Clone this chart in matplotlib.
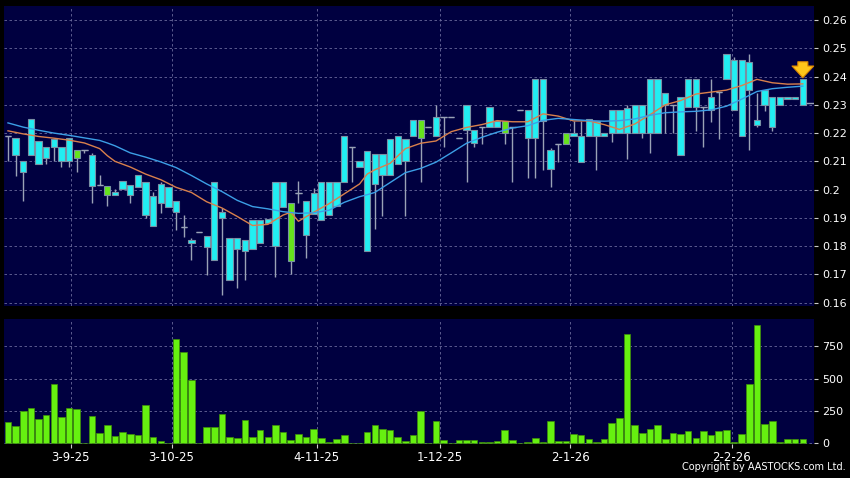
import numpy as np
import matplotlib
matplotlib.use("Agg")
import matplotlib.pyplot as plt

# daily candles (105 sessions)
opens = [
    0.2190, 0.2122, 0.2062, 0.2122, 0.2090, 0.2112, 0.2150, 0.2101, 0.2101, 0.2140,
    0.2139, 0.2012, 0.2017, 0.2012, 0.1982, 0.2002, 0.1982, 0.2011, 0.1910, 0.1871,
    0.1952, 0.1940, 0.1920, 0.1869, 0.1810, 0.1849, 0.1798, 0.1750, 0.1899, 0.1679,
    0.1790, 0.1783, 0.1790, 0.1810, 0.1881, 0.1800, 0.1940, 0.1952, 0.1989, 0.1840,
    0.1914, 0.1893, 0.1910, 0.1942, 0.2028, 0.2150, 0.2079, 0.1782, 0.2019, 0.2051,
    0.2051, 0.2090, 0.2100, 0.2189, 0.2248, 0.2221, 0.2188, 0.2258, 0.2258, 0.2183,
    0.2211, 0.2165, 0.2220, 0.2220, 0.2220, 0.2241, 0.2220, 0.2280, 0.2182, 0.2182,
    0.2241, 0.2072, 0.2160, 0.2199, 0.2190, 0.2099, 0.2190, 0.2190, 0.2190, 0.2199,
    0.2199, 0.2199, 0.2199, 0.2199, 0.2199, 0.2199, 0.2301, 0.2301, 0.2122, 0.2291,
    0.2291, 0.2291, 0.2281, 0.2346, 0.2390, 0.2281, 0.2189, 0.2352, 0.2230, 0.2299,
    0.2220, 0.2299, 0.2320, 0.2320, 0.2301]
closes = [
    0.2190, 0.2181, 0.2101, 0.2250, 0.2172, 0.2149, 0.2180, 0.2150, 0.2181, 0.2112,
    0.2139, 0.2122, 0.2017, 0.1982, 0.1991, 0.2030, 0.2018, 0.2050, 0.2028, 0.1979,
    0.2020, 0.2010, 0.1959, 0.1869, 0.1820, 0.1849, 0.1837, 0.2028, 0.1920, 0.1830,
    0.1830, 0.1820, 0.1893, 0.1893, 0.1897, 0.2028, 0.2028, 0.1749, 0.1989, 0.1958,
    0.1989, 0.2028, 0.2028, 0.2028, 0.2188, 0.2150, 0.2100, 0.2138, 0.2126, 0.2126,
    0.2179, 0.2188, 0.2180, 0.2248, 0.2181, 0.2221, 0.2258, 0.2258, 0.2258, 0.2183,
    0.2301, 0.2210, 0.2220, 0.2291, 0.2242, 0.2200, 0.2220, 0.2280, 0.2280, 0.2390,
    0.2390, 0.2139, 0.2160, 0.2160, 0.2199, 0.2190, 0.2249, 0.2241, 0.2199, 0.2280,
    0.2280, 0.2289, 0.2301, 0.2301, 0.2390, 0.2390, 0.2340, 0.2301, 0.2328, 0.2390,
    0.2390, 0.2291, 0.2328, 0.2346, 0.2478, 0.2460, 0.2460, 0.2450, 0.2248, 0.2352,
    0.2328, 0.2328, 0.2328, 0.2328, 0.2390]
highs = [
    0.2190, 0.2181, 0.2101, 0.2250, 0.2172, 0.2149, 0.2180, 0.2150, 0.2181, 0.2140,
    0.2139, 0.2129, 0.2051, 0.2012, 0.2002, 0.2030, 0.2018, 0.2050, 0.2028, 0.1991,
    0.2028, 0.2010, 0.1959, 0.1910, 0.1828, 0.1849, 0.1837, 0.2028, 0.1934, 0.1830,
    0.1830, 0.1820, 0.1893, 0.1893, 0.1897, 0.2028, 0.2028, 0.1952, 0.2031, 0.1958,
    0.2005, 0.2028, 0.2028, 0.2028, 0.2188, 0.2150, 0.2100, 0.2138, 0.2126, 0.2126,
    0.2179, 0.2188, 0.2180, 0.2248, 0.2248, 0.2221, 0.2301, 0.2258, 0.2258, 0.2183,
    0.2301, 0.2210, 0.2220, 0.2291, 0.2242, 0.2241, 0.2220, 0.2280, 0.2280, 0.2390,
    0.2390, 0.2146, 0.2160, 0.2199, 0.2241, 0.2241, 0.2249, 0.2241, 0.2199, 0.2280,
    0.2280, 0.2299, 0.2301, 0.2301, 0.2390, 0.2390, 0.2340, 0.2301, 0.2328, 0.2390,
    0.2390, 0.2291, 0.2390, 0.2346, 0.2478, 0.2470, 0.2460, 0.2478, 0.2340, 0.2352,
    0.2328, 0.2328, 0.2328, 0.2328, 0.2390]
lows = [
    0.2100, 0.2049, 0.1958, 0.2122, 0.2090, 0.2090, 0.2101, 0.2080, 0.2080, 0.2061,
    0.2130, 0.1951, 0.2017, 0.1941, 0.1982, 0.2002, 0.1952, 0.2011, 0.1899, 0.1871,
    0.1916, 0.1940, 0.1857, 0.1831, 0.1751, 0.1849, 0.1698, 0.1750, 0.1627, 0.1679,
    0.1651, 0.1680, 0.1790, 0.1810, 0.1881, 0.1690, 0.1940, 0.1702, 0.1952, 0.1759,
    0.1914, 0.1893, 0.1910, 0.1942, 0.2028, 0.2028, 0.2079, 0.1782, 0.1860, 0.1907,
    0.2051, 0.2090, 0.1908, 0.2189, 0.2028, 0.2221, 0.2188, 0.2150, 0.2258, 0.2183,
    0.2028, 0.2149, 0.2160, 0.2220, 0.2220, 0.2161, 0.2028, 0.2280, 0.2040, 0.2040,
    0.2071, 0.2010, 0.2099, 0.2160, 0.2190, 0.2099, 0.2190, 0.2070, 0.2190, 0.2169,
    0.2199, 0.2110, 0.2199, 0.2181, 0.2128, 0.2199, 0.2199, 0.2199, 0.2122, 0.2291,
    0.2208, 0.2149, 0.2240, 0.2179, 0.2390, 0.2281, 0.2189, 0.2140, 0.2220, 0.2279,
    0.2208, 0.2299, 0.2320, 0.2320, 0.2301]
volumes = [
    167, 136, 252, 272, 188, 218, 457, 200, 272, 265,
    0, 208, 80, 144, 59, 85, 72, 67, 293, 51,
    18, 0, 804, 704, 491, 0, 128, 126, 224, 51,
    41, 180, 51, 100, 46, 141, 90, 23, 69, 51,
    113, 44, 10, 36, 62, 3, 0, 90, 139, 113,
    103, 49, 15, 64, 252, 0, 172, 28, 0, 28,
    23, 28, 10, 10, 21, 103, 26, 0, 10, 41,
    10, 172, 15, 15, 72, 64, 33, 10, 31, 154,
    193, 843, 141, 80, 110, 141, 33, 77, 69, 92,
    41, 95, 67, 98, 105, 10, 69, 457, 909, 152,
    172, 10, 31, 31, 31]

# moving averages, sampled every couple of sessions
ma_idx = [0, 2, 4, 6, 8, 10, 12, 13, 14, 16, 18, 20, 22, 24, 26, 28, 30, 32, 34, 36,
          37, 38, 40, 42, 44, 46, 47, 48, 50, 52, 54, 56, 58, 60, 62, 64, 66, 68, 70,
          72, 74, 76, 78, 80, 82, 84, 86, 88, 90, 92, 94, 96, 98, 100, 102, 104]
ma_short = [0.2208, 0.2197, 0.2188, 0.2182, 0.2175, 0.2165, 0.2145, 0.2120, 0.2100,
            0.2080, 0.2055, 0.2035, 0.2008, 0.1990, 0.1957, 0.1935, 0.1905, 0.1873,
            0.1877, 0.1910, 0.1920, 0.1888, 0.1920, 0.1950, 0.1985, 0.2020, 0.2055,
            0.2070, 0.2093, 0.2145, 0.2164, 0.2172, 0.2205, 0.2220, 0.2230, 0.2244,
            0.2240, 0.2240, 0.2268, 0.2260, 0.2243, 0.2243, 0.2230, 0.2213, 0.2232,
            0.2265, 0.2300, 0.2315, 0.2338, 0.2345, 0.2352, 0.2368, 0.2390, 0.2378,
            0.2373, 0.2374]
ma_long = [0.2236, 0.2221, 0.2210, 0.2200, 0.2192, 0.2183, 0.2174, 0.2165, 0.2155,
           0.2130, 0.2115, 0.2098, 0.2078, 0.2050, 0.2020, 0.1993, 0.1962, 0.1940,
           0.1932, 0.1922, 0.1919, 0.1916, 0.1918, 0.1927, 0.1955, 0.1975, 0.1982,
           0.1990, 0.2025, 0.2060, 0.2075, 0.2097, 0.2130, 0.2164, 0.2185, 0.2203,
           0.2218, 0.2226, 0.2245, 0.2252, 0.2248, 0.2244, 0.2242, 0.2244, 0.2250,
           0.2263, 0.2272, 0.2275, 0.2277, 0.2282, 0.2295, 0.2320, 0.2347, 0.2357,
           0.2362, 0.2366]

tick_pos = [8.2, 21.4, 40.4, 56.5, 73.6, 94.7]
tick_labels = ['3-9-25', '3-10-25', '4-11-25', '1-12-25', '2-1-26', '2-2-26']
price_ticks = [0.16, 0.17, 0.18, 0.19, 0.20, 0.21, 0.22, 0.23, 0.24, 0.25, 0.26]
vol_ticks = [0, 250, 500, 750]

BG = '#000040'
GRID = '#6a6a9c'
CYAN = '#22eef2'
GREEN = '#66e41c'

fig = plt.figure(figsize=(8.5, 4.78), dpi=100, facecolor='black')
ax = fig.add_axes([4 / 850, 1 - 306 / 478, 810 / 850, 300 / 478])
axv = fig.add_axes([4 / 850, 1 - 444 / 478, 810 / 850, 125 / 478])

x = np.arange(len(opens))
o = np.array(opens)
c = np.array(closes)
up = c >= o
colors = [CYAN if u else GREEN for u in up]

for a in (ax, axv):
    a.set_facecolor(BG)
    a.set_xlim(-0.52, 105.46)
    for s in a.spines.values():
        s.set_visible(False)
    a.yaxis.tick_right()
    a.tick_params(axis='y', colors='#cccccc', labelcolor='white', labelsize=8,
                  length=3, width=0.8, pad=3)
    a.set_xticks(tick_pos)
    a.grid(True, color=GRID, linestyle=(0, (3, 3)), linewidth=0.6)
    a.set_axisbelow(True)

ax.set_xticklabels([])
ax.tick_params(axis='x', length=0)
ax.set_ylim(0.15883, 0.26495)
ax.set_yticks(price_ticks)
ax.set_yticklabels([f'{round(v, 2):g}' for v in price_ticks])

# candles
ax.vlines(x, lows, highs, color='#9aa2b6', linewidth=1, zorder=2)
body = np.abs(c - o)
ax.bar(x, body, bottom=np.minimum(o, c), width=0.82, color=colors,
       edgecolor='#7890a4', linewidth=0.8, zorder=3)
doji = body < 0.0003
ax.hlines(c[doji], x[doji] - 0.41, x[doji] + 0.41, color='#9aa2b6', linewidth=1, zorder=3)

ax.plot(ma_idx, ma_short, color='#d9804c', linewidth=1, zorder=4)
ax.plot(ma_idx, ma_long, color='#3c9fe6', linewidth=1, zorder=4)

# last price dash and marker arrow
ax.hlines(0.2307, x[-1] + 0.4, 105.46, color='#9aa2b6', linewidth=1, zorder=3)
ax.annotate('', xy=(x[-1], highs[-1] - 0.0004), xytext=(x[-1], 0.2462),
            arrowprops=dict(arrowstyle='simple,head_length=0.7,head_width=1.3,tail_width=0.6',
                            fc='#ffc61a', ec='#e08a00', lw=0.8, mutation_scale=12),
            zorder=6)

# volume
axv.bar(x, volumes, width=0.86, color='#66f010', edgecolor='#3f8f08', linewidth=0.5, zorder=3)
axv.set_ylim(-5, 959)
axv.set_yticks(vol_ticks)
axv.set_yticklabels([str(v) for v in vol_ticks])
axv.set_xticklabels(tick_labels)
axv.tick_params(axis='x', colors='#cccccc', labelcolor='white', labelsize=8.5,
                length=3, width=0.8, pad=2)

fig.text(0.995, 0.012, 'Copyright by AASTOCKS.com Ltd.', color='white',
         fontsize=7, ha='right', va='bottom')

fig.savefig('out.png', dpi=100, facecolor='black')
